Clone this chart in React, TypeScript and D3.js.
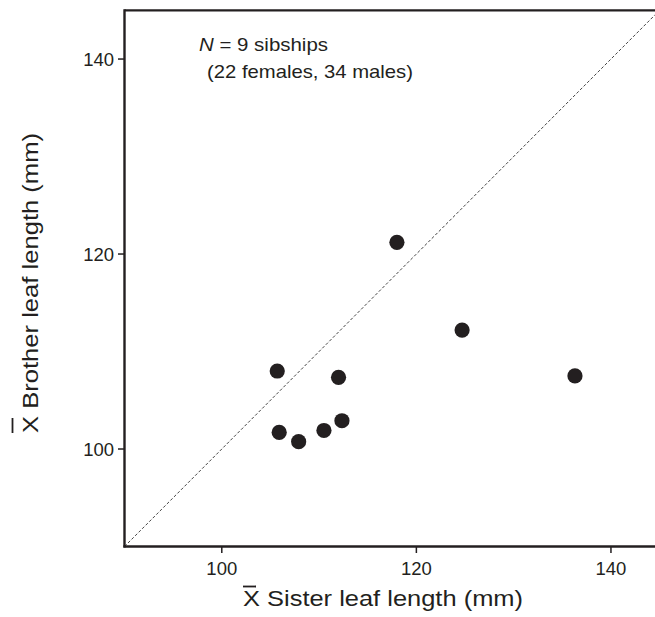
import React from "react";
import * as d3 from "d3";

const sisterLength = [105.7, 112.0, 105.9, 107.9, 110.5, 112.35, 118.0, 124.7, 136.3];
const brotherLength = [108.0, 107.35, 101.7, 100.75, 101.9, 102.9, 121.2, 112.2, 107.5];
const xTicks = [100, 120, 140];
const yTicks = [100, 120, 140];
const xDomain = [90, 145];
const yDomain = [90, 145];

const W = 655;
const H = 617;
const left = 124.5;
const bottom = 546.5;
const top = 10.3;
const right = 659.6;
const font = "'Liberation Sans', Arial, sans-serif";
const ink = "#231f20";

export default function App() {
  const x = d3.scaleLinear().domain(xDomain).range([left, right]);
  const y = d3.scaleLinear().domain(yDomain).range([bottom, top]);
  const diag = d3.line<number>().x((v) => x(v)).y((v) => y(v));
  const pts = sisterLength.map((s, i) => ({ s, b: brotherLength[i] }));
  return (
    <svg
      width={W}
      height={H}
      style={{ position: "absolute", left: 0, top: 0, background: "#fff" }}
      fontFamily={font}
    >
      <defs>
        <clipPath id="plot">
          <rect x={left} y={top} width={right - left} height={bottom - top} />
        </clipPath>
      </defs>
      {/* diagonal 1:1 line */}
      <path
        d={diag([xDomain[0], xDomain[1]]) || ""}
        stroke="#444"
        strokeWidth={1}
        strokeDasharray="3,2"
        fill="none"
        clipPath="url(#plot)"
      />
      {/* points */}
      {pts.map((p, i) => (
        <circle key={i} cx={x(p.s)} cy={y(p.b)} r={7.6} fill={ink} />
      ))}
      {/* frame */}
      <line x1={left} x2={right} y1={top} y2={top} stroke={ink} strokeWidth={2.2} />
      <line x1={left} x2={left} y1={top - 1} y2={bottom + 1.1} stroke={ink} strokeWidth={2.4} />
      <line x1={left - 1.1} x2={right} y1={bottom} y2={bottom} stroke={ink} strokeWidth={2.4} />
      {/* x ticks */}
      {xTicks.map((t) => (
        <g key={"x" + t}>
          <line x1={x(t)} x2={x(t)} y1={bottom} y2={bottom + 6.5} stroke={ink} strokeWidth={1.5} />
          <text x={x(t)} y={bottom + 28} textAnchor="middle" fontSize={18.5} fill={ink}>
            {t}
          </text>
        </g>
      ))}
      {/* y ticks */}
      {yTicks.map((t) => (
        <g key={"y" + t}>
          <line x1={left - 6.5} x2={left} y1={y(t)} y2={y(t)} stroke={ink} strokeWidth={1.5} />
          <text x={left - 10.5} y={y(t) + 6.6} textAnchor="end" fontSize={18.5} fill={ink}>
            {t}
          </text>
        </g>
      ))}
      {/* annotation */}
      <text x={199} y={51} fontSize={18.5} fill={ink} textLength={129} lengthAdjust="spacingAndGlyphs">
        <tspan fontStyle="italic">N</tspan> = 9 sibships
      </text>
      <text x={207} y={78} fontSize={18.5} fill={ink} textLength={206} lengthAdjust="spacingAndGlyphs">
        (22 females, 34 males)
      </text>
      {/* x axis title */}
      <text x={243} y={606} fontSize={22.5} fill={ink} textLength={280} lengthAdjust="spacingAndGlyphs">
        X Sister leaf length (mm)
      </text>
      <line x1={243} x2={256} y1={586.5} y2={586.5} stroke={ink} strokeWidth={1.8} />
      {/* y axis title */}
      <text
        transform="translate(38,433) rotate(-90)"
        fontSize={22.5}
        fill={ink}
        textLength={300}
        lengthAdjust="spacingAndGlyphs"
      >
        X Brother leaf length (mm)
      </text>
      <line x1={12.5} x2={12.5} y1={433} y2={418} stroke={ink} strokeWidth={1.8} />
    </svg>
  );
}
